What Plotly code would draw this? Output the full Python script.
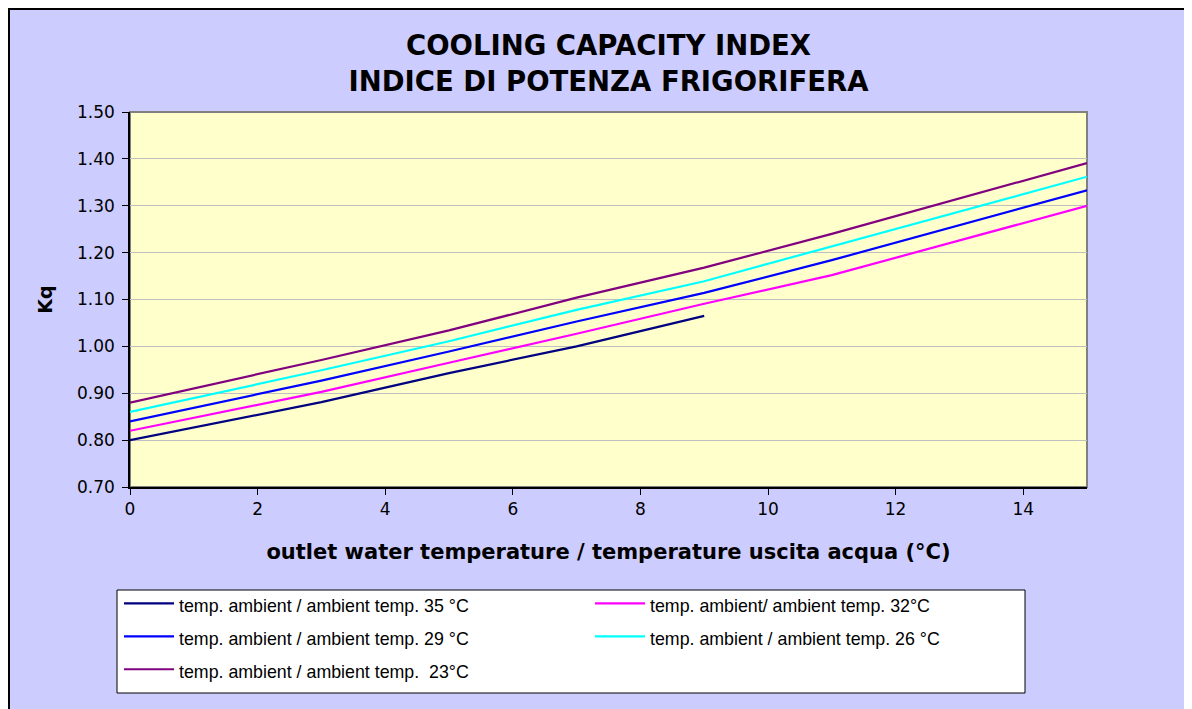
import plotly.graph_objects as go

# Data
x_water = [0, 3, 5, 7, 9, 11, 15]
x_water_35 = [0, 3, 5, 7, 9]

kq_35 = [0.80, 0.881, 0.943, 1.00, 1.065]
kq_32 = [0.82, 0.903, 0.965, 1.027, 1.091, 1.152, 1.30]
kq_29 = [0.84, 0.927, 0.989, 1.053, 1.114, 1.184, 1.333]
kq_26 = [0.86, 0.949, 1.011, 1.078, 1.139, 1.213, 1.362]
kq_23 = [0.88, 0.971, 1.034, 1.104, 1.168, 1.240, 1.391]

names = [
    "temp. ambient / ambient temp. 35 °C",
    "temp. ambient/ ambient temp. 32°C",
    "temp. ambient / ambient temp. 29 °C",
    "temp. ambient / ambient temp. 26 °C",
    "temp. ambient / ambient temp.  23°C",
]
colors = ["#000080", "#FF00FF", "#0000FF", "#00FFFF", "#800080"]

x_ticks = [0, 2, 4, 6, 8, 10, 12, 14]
y_ticks = [0.70, 0.80, 0.90, 1.00, 1.10, 1.20, 1.30, 1.40, 1.50]

ARIAL = "Liberation Sans, Arial, sans-serif"
WIDE = "DejaVu Sans, Verdana, sans-serif"

# page body margin offset (screen coords -> figure coords)
OFF = 8
W, H = 1192, 709
# plot area in screen coordinates
SX0, SX1, SY0, SY1 = 130, 1087, 112, 487
L = SX0 - OFF
R = W - (SX1 - OFF)
T = SY0 - OFF
B = H - (SY1 - OFF)
pw, ph = W - L - R, H - T - B


def sx(px):
    return (px - OFF - L) / pw


def sy(py):
    return (H - B - (py - OFF)) / ph


fig = go.Figure()
series = [
    (x_water_35, kq_35),
    (x_water, kq_32),
    (x_water, kq_29),
    (x_water, kq_26),
    (x_water, kq_23),
]
for (xs, ys), name, col in zip(series, names, colors):
    fig.add_trace(go.Scatter(
        x=xs, y=ys, mode="lines",
        name=f'<span style="font-size:17.8px">{name}</span>',
        line=dict(color=col, width=2.2)))

fig.update_layout(
    width=W, height=H,
    margin=dict(l=L, r=R, t=T, b=B, autoexpand=False),
    paper_bgcolor="#CCCCFF",
    plot_bgcolor="#FFFFCC",
    font=dict(family=ARIAL, color="black", size=15),
    title=dict(
        text="<b>COOLING CAPACITY INDEX<br>INDICE DI POTENZA FRIGORIFERA</b>",
        x=0.5, xref="paper", xanchor="center",
        y=1 - (55 - OFF) / H, yanchor="middle", yref="container",
        font=dict(size=27.5, family=WIDE, color="black"),
    ),
    xaxis=dict(
        range=[0, 15], tickvals=x_ticks, ticktext=[str(v) for v in x_ticks],
        showgrid=False, zeroline=False,
        showline=True, linecolor="black", linewidth=1.5,
        ticks="outside", ticklen=6, tickcolor="black",
        tickfont=dict(size=17, family=WIDE),
        title=dict(text="<b>outlet water temperature / temperature uscita acqua (°C)</b>",
                   font=dict(size=21, family=WIDE), standoff=26),
    ),
    yaxis=dict(
        range=[0.70, 1.50], tickvals=y_ticks, ticktext=[f"{v:.2f}" for v in y_ticks],
        showgrid=True, gridcolor="#C0C0C0", gridwidth=1, zeroline=False,
        showline=True, linecolor="black", linewidth=1.5,
        ticks="outside", ticklen=6, tickcolor="black",
        tickfont=dict(size=17, family=WIDE), ticklabelstandoff=4,
        title=dict(text="<b>Kq</b>", font=dict(size=19, family=WIDE), standoff=19),
    ),
    showlegend=True,
    legend=dict(
        orientation="h",
        x=sx(119), xanchor="left",
        y=sy(582), yanchor="top",
        bgcolor="rgba(0,0,0,0)", borderwidth=0,
        font=dict(size=23, family=ARIAL, color="black"),
        entrywidth=406, entrywidthmode="pixels",
        itemwidth=50,
        traceorder="normal",
    ),
    shapes=[
        # plot-area frame (top/right gray)
        dict(type="rect", xref="paper", yref="paper", x0=0, x1=1, y0=0, y1=1,
             line=dict(color="#808080", width=2), layer="below"),
        # outer chart border
        dict(type="rect", xref="paper", yref="paper",
             x0=sx(OFF + 1), x1=sx(1210), y0=sy(730), y1=sy(OFF + 1),
             line=dict(color="black", width=2), layer="below"),
        # legend box
        dict(type="rect", xref="paper", yref="paper",
             x0=sx(117), x1=sx(1025), y0=sy(693), y1=sy(590),
             fillcolor="white", line=dict(color="black", width=1), layer="below"),
    ],
)

fig.write_html("out.html")
